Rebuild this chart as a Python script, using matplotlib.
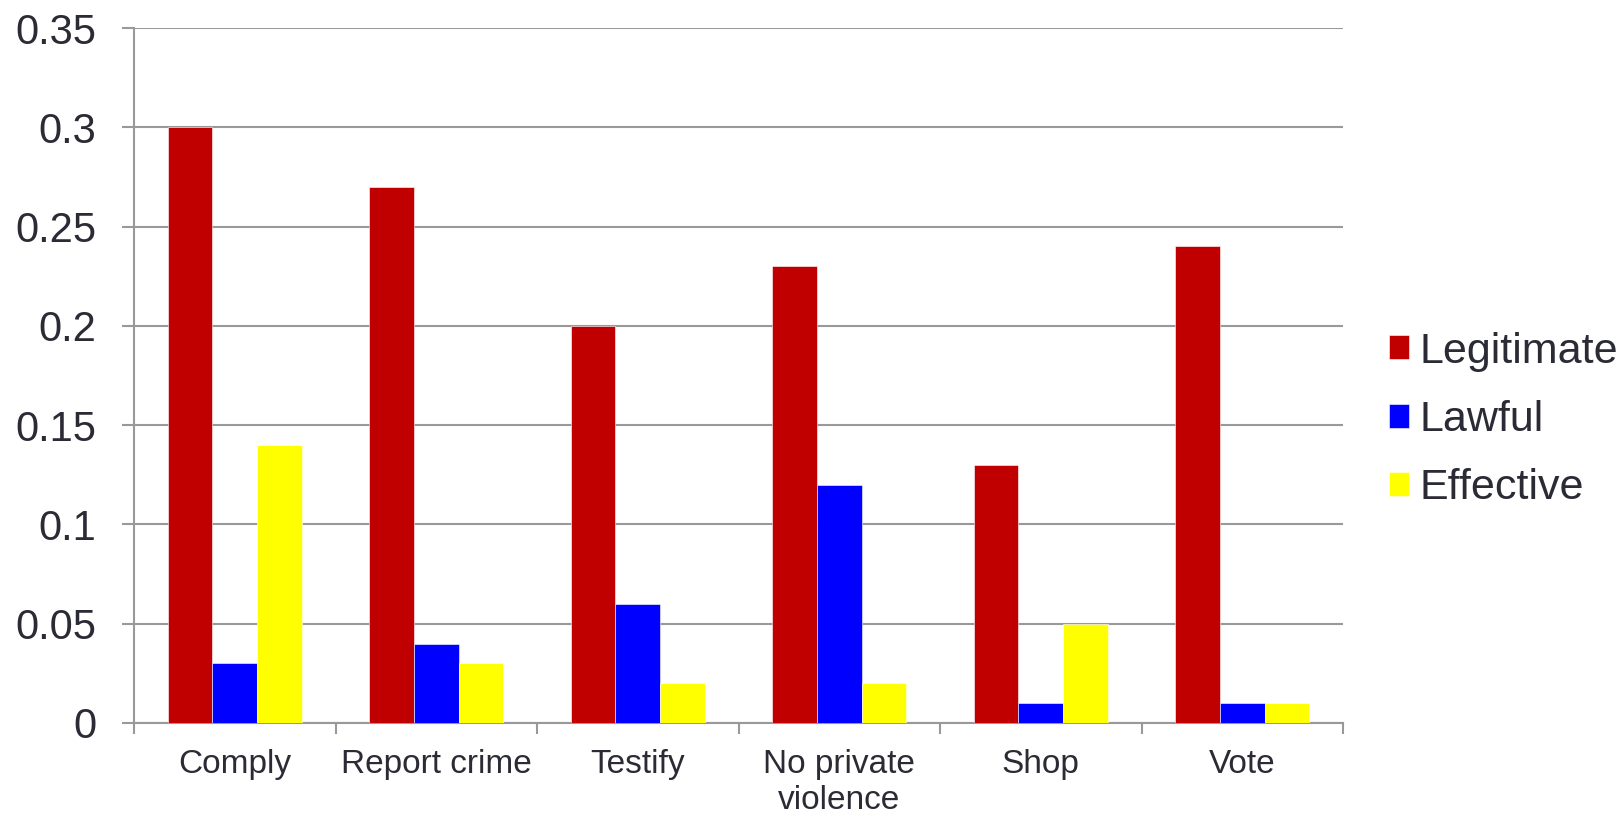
import matplotlib
matplotlib.use("Agg")
import matplotlib.pyplot as plt
import numpy as np

categories = ["Comply", "Report crime", "Testify", "No private\nviolence", "Shop", "Vote"]
series_names = ["Legitimate", "Lawful", "Effective"]
legitimate = [0.30, 0.27, 0.20, 0.23, 0.13, 0.24]
lawful = [0.03, 0.04, 0.06, 0.12, 0.01, 0.01]
effective = [0.14, 0.03, 0.02, 0.02, 0.05, 0.01]
colors = ["#C00000", "#0000FF", "#FFFF00"]
yticks = [0, 0.05, 0.1, 0.15, 0.2, 0.25, 0.3, 0.35]
ytick_labels = ["0", "0.05", "0.1", "0.15", "0.2", "0.25", "0.3", "0.35"]

plt.rcParams['font.family'] = ['Liberation Sans', 'DejaVu Sans']
text_color = "#2b2b35"
grid_color = "#999999"

fig = plt.figure(figsize=(16.21, 8.14), dpi=100)
ax = fig.add_axes([134/1621, 1-723/814, (1343-134)/1621, (723-28)/814])

x = np.arange(len(categories))
w = 0.222
for i, (vals, name, c) in enumerate(zip([legitimate, lawful, effective], series_names, colors)):
    ax.bar(x + (i-1)*w, vals, width=w, color=c, label=name, zorder=3,
           edgecolor="white", linewidth=0.4)

ax.set_xlim(-0.5, len(categories)-0.5)
ax.set_ylim(0, 0.35)
ax.set_yticks(yticks)
ax.set_yticklabels(ytick_labels)
ax.yaxis.grid(True, color=grid_color, linewidth=1.5, zorder=0)
ax.set_axisbelow(True)

ax.set_xticks(x)
ax.set_xticklabels(categories, linespacing=1.2)
ax.set_xticks(np.arange(-0.5, len(categories)), minor=True)
ax.tick_params(axis='x', which='major', length=0, pad=19, labelsize=24, labelcolor=text_color)
ax.tick_params(axis='x', which='minor', length=8, width=1.5, color=grid_color, direction='out')
ax.tick_params(axis='y', length=9, width=1.5, color=grid_color, pad=18, labelsize=30, labelcolor=text_color)

for s in ["top", "right"]:
    ax.spines[s].set_visible(False)
for s in ["left", "bottom"]:
    ax.spines[s].set_color(grid_color)
    ax.spines[s].set_linewidth(1.5)

leg = fig.legend(loc="center left", bbox_to_anchor=(1367/1621, 1-420/814), frameon=False,
                 fontsize=31, handlelength=0.47, handleheight=0.47, handletextpad=0.24,
                 labelspacing=0.66, borderpad=0)
for t in leg.get_texts():
    t.set_color(text_color)

fig.savefig("out.png", dpi=100)
